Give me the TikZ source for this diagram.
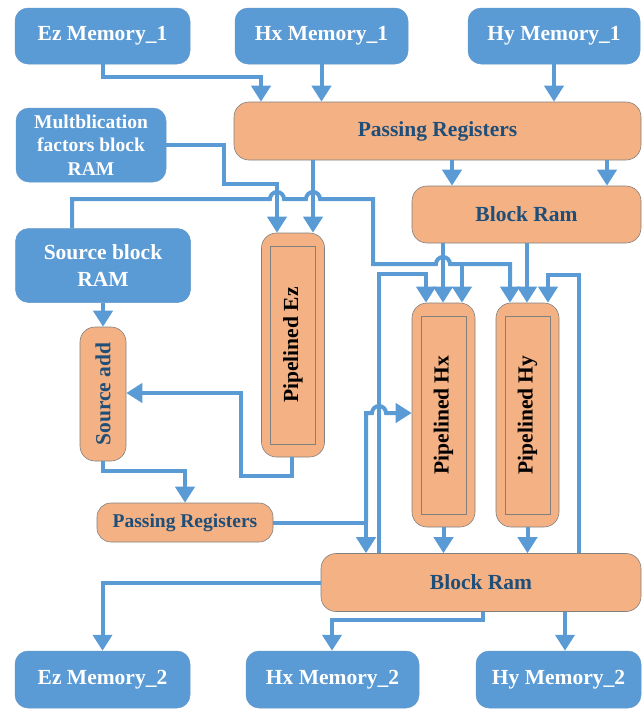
\documentclass[tikz,border=0pt]{standalone}
\usepackage{fontspec}
\setmainfont{Liberation Serif}
\usepackage{graphicx}
\usetikzlibrary{arrows.meta}

\definecolor{memblue}{HTML}{5B9BD5}
\definecolor{regorange}{HTML}{F4B183}
\definecolor{regtext}{HTML}{1F4E79}

\begin{document}
\begin{tikzpicture}[x=1pt,y=-1pt,
  mem/.style={draw=memblue!85!gray, line width=0.5pt, fill=memblue, rounded corners=13pt,
    text=white, font=\fontsize{21.5}{27}\selectfont\bfseries, align=center, inner sep=0pt},
  reg/.style={draw=gray, line width=0.6pt, fill=regorange, rounded corners=15pt,
    text=regtext, font=\fontsize{21.5}{27}\selectfont\bfseries, align=center, inner sep=0pt},
  pipe/.style={reg, text=black, minimum width=63pt, minimum height=224pt,
    path picture={\draw[gray, line width=0.6pt, sharp corners]
      ([xshift=9pt,yshift=-13pt]path picture bounding box.north west) rectangle
      ([xshift=-9pt,yshift=13pt]path picture bounding box.south east);}},
  wire/.style={draw=memblue, line width=4pt},
  link/.style={wire, -{Triangle[width=19pt,length=16pt]}}
]
\useasboundingbox (0,0) rectangle (642,713);

% memories, top row
\node[mem, minimum width=175pt, minimum height=56pt] (ezA) at (102.5,36) {Ez Memory\_1};
\node[mem, minimum width=173pt, minimum height=56pt] (hxA) at (321.5,36) {Hx Memory\_1};
\node[mem, minimum width=172pt, minimum height=56pt] (hyA) at (554,36) {Hy Memory\_1};

% registers and block rams
\node[reg, minimum width=407pt, minimum height=58pt] (prA) at (437.5,131) {Passing Registers};
\node[mem, minimum width=150pt, minimum height=74pt, font=\fontsize{19.5}{23.5}\selectfont\bfseries]
  (mult) at (91,145) {Multblication\\factors block\\RAM};
\node[reg, minimum width=229pt, minimum height=57pt] (brA) at (526.5,214.5) {Block Ram};
\node[mem, minimum width=175pt, minimum height=74pt] (src) at (103,265.5) {Source block\\RAM};

% pipelines
\node[reg, minimum width=46pt, minimum height=134pt] (sadd) at (103,394) {\rotatebox{90}{Source add}};
\node[pipe] (pez) at (293,345) {\rotatebox{90}{Pipelined Ez}};
\node[pipe] (phx) at (443.5,415) {\rotatebox{90}{Pipelined Hx}};
\node[pipe] (phy) at (527.5,415) {\rotatebox{90}{Pipelined Hy}};

\node[reg, minimum width=176pt, minimum height=39pt, rounded corners=14pt,
  font=\fontsize{19.5}{23}\selectfont\bfseries] (prB) at (185,522.5) {Passing Registers};
\node[reg, minimum width=320pt, minimum height=58pt] (brB) at (481,582.5) {Block Ram};

% memories, bottom row
\node[mem, minimum width=175pt, minimum height=57pt] (ezB) at (102.5,679.5) {Ez Memory\_2};
\node[mem, minimum width=173pt, minimum height=57pt] (hxB) at (332.5,679.5) {Hx Memory\_2};
\node[mem, minimum width=165pt, minimum height=57pt] (hyB) at (558.5,679.5) {Hy Memory\_2};

% inputs to the top registers
\draw[link] (ezA.south) |- (261,77) -- (prA.north -| 261,0);
\draw[link] (hxA.south) -- (hxA.south |- prA.north);
\draw[link] (hyA.south) -- (hyA.south |- prA.north);
\draw[link] (prA.south -| 452,0) -- (brA.north -| 452,0);
\draw[link] (prA.south -| 607,0) -- (brA.north -| 607,0);

% into Pipelined Ez
\draw[link] (prA.south -| 313,0) -- (pez.north -| 313,0);
\draw[link] (mult.east) -| (224,184) -| (pez.north -| 277,0);

% source block to Hx / Hy
\coordinate (j1) at (462,264);
\draw[link] (src.north -| 72,0) -- (72,199) -- (270,199) arc[start angle=180,end angle=0,radius=7pt]
  -- (306,199) arc[start angle=180,end angle=0,radius=7pt] -- (373,199) -- (373,264)
  -- (436,264) arc[start angle=180,end angle=0,radius=7pt] -- (510,264) -- (phy.north -| 510,0);
\draw[link] (j1) -- (phx.north -| j1);

% block ram (top) to pipelines
\draw[link] (brA.south -| 443,0) -- (phx.north -| 443,0);
\draw[link] (brA.south -| 527,0) -- (phy.north -| 527,0);

% feedback from bottom block ram
\draw[link] (brB.north -| 379,0) -- (379,274) -- (426,274) -- (phx.north -| 426,0);
\draw[link] (brB.north -| 579,0) -- (579,275) -- (548,275) -- (phy.north -| 548,0);

% source path
\draw[link] (src.south) -- (sadd.north);
\draw[link] (pez.south -| 292,0) -- (292,476) -- (241,476) -- (241,393) -- (sadd.east |- 0,393);
\draw[link] (sadd.south) |- (185,471) -- (prB.north);

% small registers out
\coordinate (j2) at (366,522.5);
\draw[link] (prB.east) -- (j2) -- (brB.north -| j2);
\draw[link] (j2) -- (366,413) -- (372,413) arc[start angle=180,end angle=0,radius=7pt] -- (phx.west |- 0,413);

% pipelines to bottom block ram
\draw[link] (phx.south) -- (phx.south |- brB.north);
\draw[link] (phy.south) -- (phy.south |- brB.north);

% block ram to memories
\draw[link] (brB.west) -| (ezB.north);
\draw[link] (brB.south -| 483,0) |- (332,620) -- (hxB.north -| 332,0);
\draw[link] (brB.south -| 565,0) -- (hyB.north -| 565,0);
\end{tikzpicture}
\end{document}
